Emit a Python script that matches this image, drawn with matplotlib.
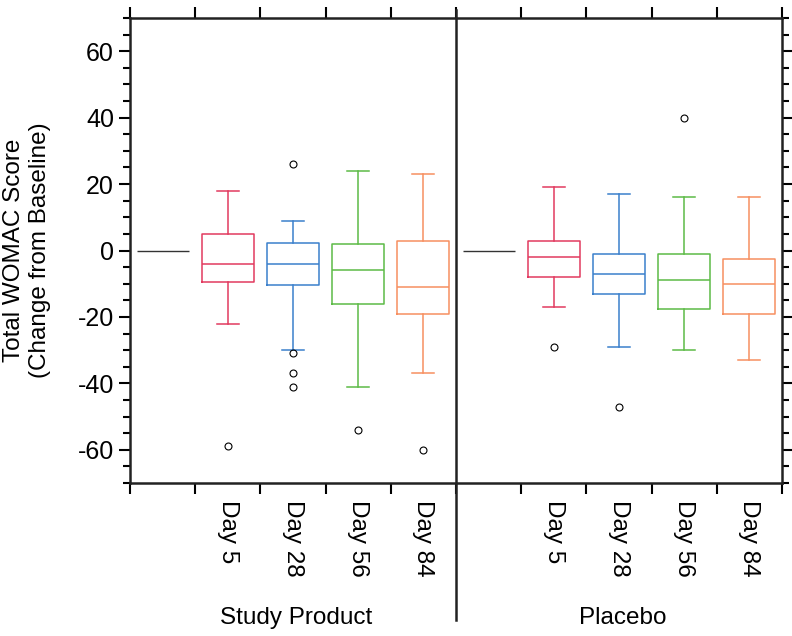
import matplotlib.pyplot as plt
import numpy as np
from matplotlib.ticker import MultipleLocator

plt.rcParams['font.family'] = ['Liberation Sans', 'DejaVu Sans']
plt.rcParams['axes.unicode_minus'] = False

days = ['Day 5', 'Day 28', 'Day 56', 'Day 84']
groups = ['Study Product', 'Placebo']
colors = ['#e23a5f', '#3b80cc', '#5dbb47', '#f78f60']

# Study Product
sp_whishi = [18, 9, 24, 23]
sp_q3 = [5, 2.4, 2, 3]
sp_med = [-4, -4, -6, -11]
sp_q1 = [-9.5, -10.5, -16, -19]
sp_whislo = [-22, -30, -41, -37]
sp_fliers = [[-59], [26, -31, -37, -41], [-54], [-60]]

# Placebo
pl_whishi = [19, 17, 16, 16]
pl_q3 = [3, -1, -1, -2.5]
pl_med = [-2, -7, -9, -10]
pl_q1 = [-8, -13, -17.5, -19]
pl_whislo = [-17, -29, -30, -33]
pl_fliers = [[-29], [-47], [40], []]

baseline = 0

fig = plt.figure(figsize=(7.92, 6.36), dpi=100)
ax = fig.add_axes([130 / 792, 1 - 483 / 636, 652 / 792, 465 / 636])

panels = [(sp_whishi, sp_q3, sp_med, sp_q1, sp_whislo, sp_fliers),
          (pl_whishi, pl_q3, pl_med, pl_q1, pl_whislo, pl_fliers)]

for g, (hi, q3, med, q1, lo, fl) in enumerate(panels):
    start = g * 5
    # baseline marker
    ax.hlines(baseline, start + 0.1, start + 0.9, color='#333333', lw=1.0)
    for i in range(4):
        st = dict(med=med[i], q1=q1[i], q3=q3[i], whislo=lo[i], whishi=hi[i],
                  fliers=np.array(fl[i]))
        c = colors[i]
        ax.bxp([st], positions=[start + i + 1.5], widths=0.8, capwidths=0.34,
               boxprops=dict(color=c, lw=1.1),
               medianprops=dict(color=c, lw=1.1),
               whiskerprops=dict(color=c, lw=1.1),
               capprops=dict(color=c, lw=1.1),
               flierprops=dict(marker='o', mfc='none', mec='black', ms=5, mew=0.8),
               manage_ticks=False)

ax.set_xlim(0, 10)
ax.set_ylim(-70, 70)
ax.set_xticks(np.arange(0, 11))
ax.set_yticks(np.arange(-60, 61, 20))
ax.yaxis.set_minor_locator(MultipleLocator(5))
ax.tick_params(axis='x', which='major', top=True, bottom=True, direction='out',
               length=8, width=1.5, labelbottom=False)
ax.tick_params(axis='y', which='major', left=True, right=True, direction='out',
               length=8, width=1.5, labelsize=18)
ax.tick_params(axis='y', which='minor', left=True, right=True, direction='out',
               length=5, width=1.5)
for s in ax.spines.values():
    s.set_linewidth(1.8)
    s.set_color('#222222')

# divider between the two groups
ax.axvline(5, ymin=-0.295, ymax=1.017, color='#222222', lw=1.8, clip_on=False)

for g in range(2):
    for i, d in enumerate(days):
        ax.text(g * 5 + i + 1.5, -0.037, d, transform=ax.get_xaxis_transform(),
                rotation=-90, ha='center', va='top', fontsize=17.5)
    ax.text(g * 5 + 2.55, -0.29, groups[g], transform=ax.get_xaxis_transform(),
            ha='center', va='center', fontsize=17.5)

fig.text(27 / 792, 1 - 250 / 636, 'Total WOMAC Score\n(Change from Baseline)',
         rotation=90, ha='center', va='center', fontsize=17.5)

fig.savefig('out.png', dpi=100)
